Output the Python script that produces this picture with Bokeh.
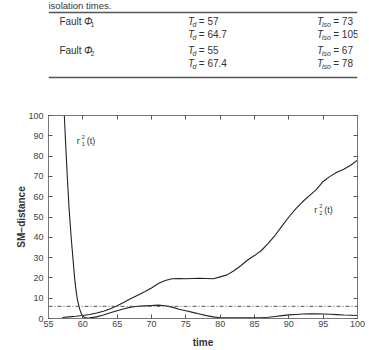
from bokeh.plotting import figure
from bokeh.models import Range1d, Span, Label, LinearAxis, FixedTicker
from bokeh.layouts import column
from bokeh.embed import file_html
from bokeh.resources import INLINE

# ---------------- table data ----------------
caption_tail = "isolation times."
fault_names = ["Fault", "Fault"]
fault_subs = ["1", "2"]
td_values = ["57", "64.7", "55", "67.4"]
tiso_values = ["73", "105", "67", "78"]

# ---------------- chart data ----------------
r1_time = [57.0, 57.2, 57.4, 57.6, 57.8, 58.0, 58.3, 58.6, 58.8, 59.0, 59.2, 59.5, 59.8,
           60.2, 60.6, 61.0, 62, 63, 64, 65, 66, 67, 68, 69, 70, 71, 72, 73, 74, 75,
           76, 77, 78, 79, 80, 82, 84, 86, 87, 88, 89, 90, 91, 92, 93, 94, 95, 96,
           97, 98, 99, 100]
r1_vals = [125, 108, 93, 79, 66, 54, 40, 28, 20, 14, 9.5, 5.0, 2.2,
           0.6, 0.2, 0.3, 0.8, 1.7, 2.8, 3.8, 4.8, 5.6, 6.0, 6.2, 6.4, 6.6, 6.3, 5.6, 4.6, 3.8,
           3.0, 2.2, 1.4, 0.8, 0.4, 0.3, 0.3, 0.4, 0.6, 1.0, 1.4, 1.8, 2.0, 2.2, 2.3, 2.3, 2.2, 2.1,
           1.9, 1.7, 1.6, 1.5]
r2_time = [57, 58, 59, 60, 61, 62, 63, 64, 65, 66, 67, 68, 69, 70, 71, 72, 73, 74, 75,
           76, 77, 78, 79, 80, 81, 82, 83, 84, 85, 86, 87, 88, 89, 90, 91, 92, 93, 94,
           95, 96, 97, 98, 99, 100]
r2_vals = [0.5, 0.8, 1.1, 1.5, 2.0, 2.7, 3.6, 4.8, 6.3, 8.0, 9.8, 11.5, 13.2, 15.0, 17.2,
           18.7, 19.6, 19.7, 19.6, 19.7, 19.8, 19.7, 19.6, 20.5, 21.5, 23.5, 26.0, 28.8,
           31.0, 33.5, 37.0, 41.0, 45.5, 50.0, 54.0, 57.5, 60.5, 63.5, 67.5, 70.0, 72.0,
           73.5, 75.5, 78.0]
threshold = 6.0
x_ticks = list(range(55, 101, 5))
y_ticks = list(range(0, 101, 10))
curve_labels = [("1", 59.1, 87.6), ("2", 93.7, 53.6)]

TXT = "#333333"
FONT = "Liberation Sans"

# ---------------- table (as a figure in pixel space) ----------------
tf = figure(width=369, height=95, x_range=Range1d(0, 369), y_range=Range1d(95, 0),
            output_backend="svg", toolbar_location=None, min_border=0)
tf.axis.visible = False
tf.grid.visible = False
tf.outline_line_color = None


def tlabel(fig, x, y, text, size="10px", style="normal", yoff=0):
    fig.add_layout(Label(x=x, y=y, text=text, text_font=FONT, text_font_size=size,
                         text_font_style=style, text_color=TXT, text_baseline="middle",
                         y_offset=yoff))


tlabel(tf, 0, 5, caption_tail, size="9.5px")
tf.add_layout(Span(location=12, dimension="width", line_color="#555555", line_width=1.5))
tf.add_layout(Span(location=77, dimension="width", line_color="#555555", line_width=1.5))

row_y = [21, 34, 50, 63]
for i, (nm, sub) in enumerate(zip(fault_names, fault_subs)):
    y = row_y[2 * i]
    tlabel(tf, 13, y, nm)
    tlabel(tf, 42.5, y, "Φ", style="italic")
    tlabel(tf, 50.5, y + 2.5, sub, size="6.5px")
for i, (td, ti) in enumerate(zip(td_values, tiso_values)):
    y = row_y[i]
    tlabel(tf, 166.5, y, "T", style="italic")
    tlabel(tf, 172, y + 2.5, "d", size="7px", style="italic")
    tlabel(tf, 179.5, y, "= " + td)
    tlabel(tf, 320.5, y, "T", style="italic")
    tlabel(tf, 326.5, y + 2.5, "iso", size="7px", style="italic")
    tlabel(tf, 340, y, "= " + ti)

# ---------------- chart ----------------
p = figure(width=369, height=255, x_range=Range1d(55, 100), y_range=Range1d(0, 100),
           output_backend="svg", toolbar_location=None,
           min_border_left=48, min_border_right=12, min_border_top=20, min_border_bottom=31,
           x_axis_label="time", y_axis_label="SM\u2212distance")
p.grid.visible = False
p.outline_line_color = "#777777"
p.background_fill_color = "white"

for ax in p.axis:
    ax.major_tick_in = 4
    ax.major_tick_out = 0
    ax.minor_tick_line_color = None
    ax.axis_line_color = "#777777"
    ax.major_tick_line_color = "#555555"
    ax.major_label_text_font = "Liberation Sans"
    ax.major_label_text_font_size = "9px"
    ax.major_label_text_color = "#444444"
    ax.axis_label_text_font = "Liberation Sans"
    ax.axis_label_text_font_size = "10px"
    ax.axis_label_text_font_style = "bold"
    ax.axis_label_text_color = TXT
p.xaxis.ticker = FixedTicker(ticks=x_ticks)
p.yaxis.ticker = FixedTicker(ticks=y_ticks)
p.xaxis.major_label_standoff = 2
p.xaxis.axis_label_standoff = 7
p.yaxis.major_label_standoff = 5
p.yaxis.axis_label_standoff = -2

for loc, ticks in (("right", y_ticks), ("above", x_ticks)):
    ax = LinearAxis(ticker=FixedTicker(ticks=ticks), major_tick_in=4, major_tick_out=0,
                    minor_tick_line_color=None, axis_line_color="#777777",
                    major_tick_line_color="#555555", major_label_text_color=None,
                    major_label_text_font_size="1px", major_label_standoff=0)
    p.add_layout(ax, loc)

p.add_layout(Span(location=threshold, dimension="width", line_color="#555555",
                  line_width=1, line_dash="4 2 1 2"))
p.line(r1_time, r1_vals, line_color="#222222", line_width=1.1)
p.line(r2_time, r2_vals, line_color="#222222", line_width=1.1)

for sub, lx, ly in curve_labels:
    for txt, xo, yo, sz in (("r", 0, 0, "9px"), ("2", 5, 3.5, "5.5px"),
                            (sub, 5, -3, "5.5px"), ("(t)", 10, 0, "9px")):
        p.add_layout(Label(x=lx, y=ly, text=txt, x_offset=xo, y_offset=yo,
                           text_font="Liberation Sans", text_font_size=sz,
                           text_color=TXT, text_baseline="middle"))

layout = column(tf, p)
open("out.html", "w").write(file_html(layout, INLINE))
